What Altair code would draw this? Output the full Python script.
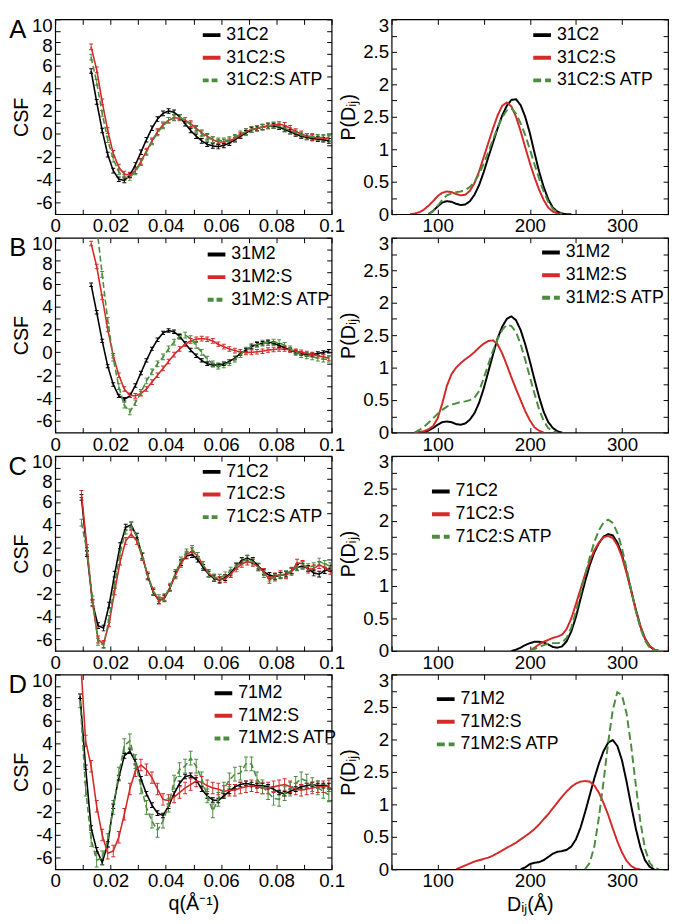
import altair as alt
import pandas as pd

BLACK = "#000000"
RED = "#d52a2a"
GREEN = "#4b8c3e"
FONT = "Liberation Sans"
NARROW = "Liberation Sans Narrow, Liberation Sans, Arial"

# ---------------- CSF panels (left column) ----------------
q_AB = [round(0.013 + 0.002 * i, 4) for i in range(44)]
q_C = [round(0.0095 + 0.002 * i, 4) for i in range(46)]
q_D = [round(0.009 + 0.002 * i, 4) for i in range(46)]

names_A = ["31C2", "31C2:S", "31C2:S ATP"]
names_B = ["31M2", "31M2:S", "31M2:S ATP"]
names_C = ["71C2", "71C2:S", "71C2:S ATP"]
names_D = ["71M2", "71M2:S", "71M2:S ATP"]

A_black = [5.5, 2.8, 0.3, -1.8, -3.2, -3.95, -4.05, -3.6, -2.7, -1.6, -0.5, 0.5, 1.3, 1.8, 2.0,
           1.9, 1.5, 0.9, 0.3, -0.2, -0.6, -0.9, -1.05, -1.1, -1.0, -0.8, -0.5, -0.2, 0.1, 0.35,
           0.5, 0.6, 0.7, 0.7, 0.6, 0.4, 0.2, 0.0, -0.2, -0.3, -0.4, -0.45, -0.5, -0.6]
A_red = [7.6, 5.6, 2.8, 0.3, -1.7, -2.9, -3.5, -3.6, -3.2, -2.4, -1.5, -0.6, 0.2, 0.8, 1.2,
         1.4, 1.4, 1.2, 0.9, 0.5, 0.1, -0.2, -0.5, -0.7, -0.7, -0.6, -0.4, -0.1, 0.2, 0.4,
         0.5, 0.6, 0.7, 0.8, 0.85, 0.75, 0.5, 0.2, 0.0, -0.2, -0.3, -0.35, -0.4, -0.4]
A_green = [6.7, 4.5, 1.8, -0.5, -2.2, -3.3, -3.8, -3.8, -3.3, -2.5, -1.6, -0.7, 0.1, 0.7, 1.2,
           1.45, 1.45, 1.2, 0.8, 0.4, 0.0, -0.3, -0.5, -0.6, -0.6, -0.5, -0.3, 0.0, 0.2, 0.4,
           0.5, 0.6, 0.7, 0.75, 0.7, 0.5, 0.3, 0.1, -0.1, -0.2, -0.2, -0.3, -0.3, -0.3]
A_err = [0.2, 0.25, 0.25]

B_black = [5.9, 3.5, 1.0, -1.2, -2.8, -3.8, -4.1, -3.8, -2.9, -1.8, -0.7, 0.3, 1.1, 1.7, 1.9,
           1.8, 1.4, 0.8, 0.2, -0.3, -0.7, -1.0, -1.1, -1.1, -1.0, -0.8, -0.5, -0.1, 0.2, 0.5,
           0.7, 0.8, 0.9, 0.8, 0.6, 0.4, 0.2, 0.0, -0.1, -0.2, -0.2, -0.1, 0.0, 0.1]
B_red = [9.5, 7.5, 4.8, 2.0, -0.3, -2.0, -3.2, -3.75, -3.8, -3.6, -3.2, -2.6, -2.0, -1.4, -0.8,
         -0.2, 0.3, 0.7, 1.0, 1.15, 1.2, 1.15, 1.0, 0.7, 0.5, 0.3, 0.15, 0.05, 0.0, 0.0,
         0.05, 0.1, 0.2, 0.25, 0.3, 0.3, 0.2, 0.1, 0.0, -0.1, -0.2, -0.3, -0.4, -0.5]
B_green = [13.0, 11.0, 6.8, 2.8, -0.5, -3.0, -4.6, -5.2, -4.4, -3.5, -2.5, -1.7, -1.0, -0.4, 0.3,
           0.9, 1.4, 1.5, 1.2, 0.6, 0.0, -0.6, -1.0, -1.2, -1.1, -0.9, -0.6, -0.2, 0.2, 0.5,
           0.7, 0.8, 0.85, 0.9, 0.85, 0.6, 0.3, 0.0, -0.2, -0.3, -0.4, -0.5, -0.6, -0.6]
B_err = [0.15, 0.2, 0.25]

C_black = [6.4, 1.5, -2.8, -4.8, -5.0, -3.0, -0.3, 2.2, 3.8, 4.0, 3.0, 1.3, -0.5, -1.9, -2.6,
           -2.4, -1.5, -0.3, 0.7, 1.3, 1.4, 1.0, 0.3, -0.3, -0.7, -0.8, -0.6, -0.2, 0.4, 0.9,
           1.1, 0.9, 0.4, -0.1, -0.4, -0.5, -0.4, -0.3, 0.0, 0.3, 0.4, 0.2, -0.2, -0.3, 0.0, 0.2]
C_red = [6.7, 2.0, -2.8, -6.0, -6.4, -4.6, -1.8, 0.8, 2.6, 3.2, 2.6, 1.2, -0.4, -1.8, -2.6,
         -2.4, -1.5, -0.4, 0.6, 1.4, 1.7, 1.3, 0.5, -0.2, -0.6, -0.8, -0.7, -0.3, 0.2, 0.6,
         0.8, 0.7, 0.3, -0.1, -0.8, -0.5, -0.3, -0.4, -0.1, 0.7, 0.6, 0.1, 0.2, 0.5, 0.3, 0.0]
C_green = [4.2, 1.7, -2.5, -6.2, -6.5, -4.2, -1.2, 1.6, 3.5, 3.9, 3.0, 1.3, -0.5, -1.8, -2.4,
           -2.3, -1.4, -0.2, 0.9, 1.6, 1.9, 1.3, 0.5, -0.2, -0.6, -0.6, -0.4, 0.0, 0.4, 0.8,
           1.0, 0.8, 0.3, -0.3, -0.6, -0.6, -0.4, -0.3, 0.0, 0.3, 0.5, 0.3, 0.4, 0.8, 0.6, 0.4]
C_err = [0.25, 0.3, 0.3]

D_black = [8.1, 1.9, -3.4, -5.3, -6.4, -4.8, -1.5, 1.0, 2.9, 3.3, 2.4, 0.9, -0.4, -1.4, -2.1,
           -2.3, -1.5, -0.4, 0.5, 1.1, 1.2, 0.8, 0.0, -0.6, -0.95, -1.0, -0.6, -0.2, 0.2, 0.4,
           0.5, 0.4, 0.3, 0.3, 0.2, 0.0, -0.3, -0.4, -0.2, 0.0, 0.2, 0.3, 0.4, 0.3, 0.3, 0.3]
D_red = [12.0, 4.2, 2.0, -1.5, -4.0, -5.6, -5.4, -4.2, -2.2, 0.0, 1.6, 2.1, 1.7, 1.0, 0.0,
         -0.9, -1.0, -0.7, -0.3, 0.1, 0.4, 0.7, 0.6, 0.3, 0.1, 0.0, -0.2, -0.1, -0.1, 0.1,
         0.2, 0.3, 0.2, 0.1, 0.1, 0.2, 0.3, 0.4, 0.2, 0.0, -0.1, 0.0, 0.1, 0.2, 0.2, 0.3]
D_green = [7.7, 0.0, -4.4, -6.2, -6.0, -4.5, -1.6, 1.3, 3.8, 4.2, 2.4, 0.2, -1.6, -2.8, -3.6,
           -2.8, -1.4, 0.6, 1.7, 2.0, 2.7, 2.0, 0.9, -0.6, -1.9, -0.9, 0.0, 0.8, 1.3, 1.4,
           2.2, 2.2, 0.9, 0.2, -0.3, -0.8, -0.9, -0.4, 0.0, 0.5, 0.9, 0.7, 0.4, 0.1, -0.2, -0.5]
D_err = [0.2, 0.5, 0.6]

# ---------------- P(Dij) panels (right column) ----------------
d_A = list(range(70, 250, 5))
d_B = list(range(75, 245, 5))
d_C = list(range(180, 345, 5))
d_D = list(range(120, 345, 5))

PA_black = [None] * 4 + [0.0, 0.05, 0.12, 0.18, 0.2, 0.19, 0.16, 0.14, 0.15, 0.2, 0.3, 0.45, 0.65, 0.88,
                         1.1, 1.32, 1.52, 1.67, 1.76, 1.77, 1.68, 1.5, 1.25, 0.95, 0.66, 0.42, 0.23,
                         0.1, 0.04, 0.01, 0.0, 0.0]
PA_red = [0.0, 0.01, 0.03, 0.07, 0.13, 0.2, 0.28, 0.33, 0.35, 0.34, 0.31, 0.29, 0.3, 0.36, 0.48,
          0.66, 0.88, 1.1, 1.32, 1.52, 1.67, 1.72, 1.66, 1.5, 1.28, 1.03, 0.79, 0.57, 0.38, 0.22,
          0.1, 0.04, 0.01, 0.0, None, None]
PA_green = [None] * 4 + [0.0, 0.05, 0.13, 0.22, 0.29, 0.32, 0.34, 0.35, 0.37, 0.42, 0.5, 0.62, 0.78,
                         0.96, 1.15, 1.33, 1.49, 1.6, 1.63, 1.55, 1.4, 1.22, 1.0, 0.77, 0.55, 0.35,
                         0.19, 0.08, 0.03, 0.0, None, None]

PB_black = [None, 0.0, 0.01, 0.03, 0.07, 0.12, 0.16, 0.17, 0.16, 0.13, 0.12, 0.14, 0.2, 0.3, 0.46,
            0.68, 0.94, 1.2, 1.45, 1.63, 1.75, 1.79, 1.73, 1.58, 1.36, 1.1, 0.82, 0.55, 0.32, 0.16,
            0.07, 0.02, 0.0, None]
PB_red = [0.0, 0.01, 0.02, 0.05, 0.1, 0.22, 0.45, 0.72, 0.9, 1.0, 1.07, 1.13, 1.18, 1.24, 1.31,
          1.37, 1.41, 1.42, 1.36, 1.22, 1.04, 0.85, 0.67, 0.5, 0.33, 0.19, 0.08, 0.03, 0.0,
          None, None, None, None, None]
PB_green = [0.0, 0.04, 0.09, 0.15, 0.22, 0.29, 0.35, 0.4, 0.43, 0.45, 0.47, 0.48, 0.5, 0.54, 0.64,
            0.84, 1.05, 1.26, 1.44, 1.58, 1.66, 1.64, 1.55, 1.36, 1.12, 0.86, 0.6, 0.36, 0.18,
            0.07, 0.02, 0.0, None, None]

PC_black = [0.0, 0.02, 0.05, 0.09, 0.12, 0.14, 0.14, 0.13, 0.1, 0.06, 0.05, 0.07, 0.15, 0.3, 0.52,
            0.8, 1.07, 1.32, 1.52, 1.66, 1.76, 1.8, 1.78, 1.67, 1.48, 1.22, 0.93, 0.64, 0.38, 0.19,
            0.07, 0.02, 0.0]
PC_red = [None] * 4 + [0.0, 0.05, 0.1, 0.14, 0.17, 0.2, 0.22, 0.25, 0.34, 0.5, 0.72, 0.95, 1.18, 1.38,
                       1.55, 1.67, 1.75, 1.77, 1.74, 1.63, 1.45, 1.2, 0.92, 0.63, 0.38, 0.19, 0.08,
                       0.02, 0.0]
PC_green = [None] * 4 + [0.0, 0.03, 0.06, 0.09, 0.11, 0.12, 0.12, 0.13, 0.2, 0.36, 0.6, 0.88, 1.17,
                         1.44, 1.68, 1.86, 1.98, 2.02, 1.97, 1.82, 1.58, 1.27, 0.94, 0.62, 0.35, 0.16,
                         0.05, 0.01, 0.0]

PD_black = [None] * 14 + [0.0, 0.03, 0.08, 0.1, 0.11, 0.14, 0.19, 0.24, 0.27, 0.28, 0.3, 0.35, 0.46,
                          0.64, 0.88, 1.14, 1.4, 1.63, 1.82, 1.95, 1.99, 1.9, 1.68, 1.35, 0.98, 0.63,
                          0.34, 0.14, 0.04, 0.0, None]
PD_red = [0.0, 0.03, 0.06, 0.09, 0.12, 0.14, 0.16, 0.18, 0.21, 0.25, 0.29, 0.33, 0.37, 0.41, 0.46,
          0.51, 0.56, 0.62, 0.69, 0.77, 0.85, 0.94, 1.03, 1.12, 1.2, 1.27, 1.32, 1.35, 1.36, 1.35,
          1.29, 1.18, 1.02, 0.84, 0.63, 0.43, 0.26, 0.13, 0.05, 0.01, 0.0, None, None, None, None]
PD_green = [None] * 28 + [0.0, 0.1, 0.35, 0.8, 1.35, 1.95, 2.45, 2.73, 2.68, 2.4, 1.9, 1.3, 0.73,
                          0.32, 0.1, 0.02, 0.0]

# tick positions
X_TICKS_Q = [round(i * 0.01, 2) for i in range(11)]
Y_TICKS_CSF = list(range(-6, 11))
X_TICKS_D = list(range(50, 351, 50))
Y_TICKS_P = [i * 0.25 for i in range(13)]

W = 281
H = 198


def legend(lx, ly):
    return alt.Legend(orient="none", legendX=lx, legendY=ly, title=None, symbolType="stroke",
                      symbolSize=324, symbolStrokeWidth=4, symbolOpacity=1, labelFontSize=18,
                      labelFont=NARROW, labelOffset=4, rowPadding=3, padding=0, labelColor="black")


def tick_axis(orient, values):
    return alt.Axis(orient=orient, values=values, tickSize=5, offset=-5, domain=False,
                    grid=False, labels=False, tickColor="black")


def label_axis(orient, values, expr, pad, top_value=None, next_value=None, title_pad=0):
    kw = dict(orient=orient, values=values, tickSize=5, offset=-5, domain=False, grid=False,
              labelExpr=expr, labelPadding=pad, labelOverlap=False, labelFlush=False,
              tickColor="black", titlePadding=title_pad)
    if top_value is not None:
        test = "datum.value == %s" % top_value
        kw["labelBaseline"] = {"condition": {"test": test, "value": "top"}, "value": "middle"}
        conds = [{"test": test, "value": -3}]
        if next_value is not None:
            conds.append({"test": "datum.value == %s" % next_value, "value": 3})
        kw["labelOffset"] = {"condition": conds, "value": 0}
    return alt.Axis(**kw)


def left_panel(q, series, errs, names, letter, lx, ly, bottom):
    rows = []
    for name, vals, e in zip(names, series, errs):
        assert len(vals) == len(q), (name, len(vals), len(q))
        for qq, v in zip(q, vals):
            rows.append({"q": qq, "v": v, "lo": v - e, "hi": v + e, "s": name})
    df = pd.DataFrame(rows)
    xs = alt.Scale(domain=[0, 0.1], nice=False, zero=False)
    ys = alt.Scale(domain=[-7, 10], nice=False, zero=False)
    leg = legend(lx, ly)
    col = alt.Color("s:N", scale=alt.Scale(domain=names, range=[BLACK, RED, GREEN]),
                    legend=leg, title=None)
    dash = alt.StrokeDash("s:N", scale=alt.Scale(domain=names, range=[[1, 0], [1, 0], [6, 3]]),
                          legend=leg, title=None)
    base = alt.Chart(df)
    rules = base.mark_rule(strokeWidth=1, opacity=1, clip=True).encode(
        x=alt.X("q:Q", scale=xs, axis=tick_axis("top", X_TICKS_Q), title=None),
        y=alt.Y("lo:Q", scale=ys, axis=tick_axis("right", Y_TICKS_CSF), title=None),
        y2="hi:Q", color=col)
    cap_lo = base.mark_tick(orient="horizontal", size=4, thickness=1, opacity=1, clip=True).encode(
        x=alt.X("q:Q", scale=xs, axis=None), y=alt.Y("lo:Q", scale=ys, axis=None), color=col)
    cap_hi = base.mark_tick(orient="horizontal", size=4, thickness=1, opacity=1, clip=True).encode(
        x=alt.X("q:Q", scale=xs, axis=None), y=alt.Y("hi:Q", scale=ys, axis=None), color=col)
    xlab = label_axis("bottom", X_TICKS_Q,
                      "round(datum.value * 100) % 2 == 0 ? format(datum.value, '~g') : ''", 3,
                      title_pad=3)
    ylab = label_axis("left", Y_TICKS_CSF, "datum.value % 2 == 0 ? '' + datum.value : ''", 3,
                      top_value=10, next_value=8, title_pad=0)
    line = base.mark_line(strokeWidth=1.6, opacity=1, clip=True).encode(
        x=alt.X("q:Q", scale=xs, axis=xlab, title="q(Å⁻¹)" if bottom else None),
        y=alt.Y("v:Q", scale=ys, axis=ylab, title="CSF"),
        color=col, strokeDash=dash)
    lt = alt.Chart(pd.DataFrame({"t": [letter]})).mark_text(
        fontSize=26, font=FONT, align="center", baseline="top", color="black").encode(
        text="t:N", x=alt.value(-38), y=alt.value(-2))
    return alt.layer(rules, cap_lo, cap_hi, line, lt).resolve_axis(
        x="independent", y="independent").properties(width=W, height=H)


def right_panel(d, series, names, lx, ly, bottom):
    rows = []
    for name, vals in zip(names, series):
        assert len(vals) == len(d), (name, len(vals), len(d))
        for dd, v in zip(d, vals):
            if v is not None:
                rows.append({"d": dd, "p": v, "s": name})
    df = pd.DataFrame(rows)
    xs = alt.Scale(domain=[50, 350], nice=False, zero=False)
    ys = alt.Scale(domain=[0, 3], nice=False, zero=False)
    leg = legend(lx, ly)
    col = alt.Color("s:N", scale=alt.Scale(domain=names, range=[BLACK, RED, GREEN]),
                    legend=leg, title=None)
    dash = alt.StrokeDash("s:N", scale=alt.Scale(domain=names, range=[[1, 0], [1, 0], [8, 4]]),
                          legend=leg, title=None)
    base = alt.Chart(df)
    frame = base.mark_line(strokeOpacity=0).encode(
        x=alt.X("d:Q", scale=xs, axis=tick_axis("top", X_TICKS_D), title=None),
        y=alt.Y("p:Q", scale=ys, axis=tick_axis("right", Y_TICKS_P), title=None),
        detail="s:N")
    xlab = label_axis("bottom", X_TICKS_D, "datum.value % 100 == 0 ? '' + datum.value : ''", 3,
                      title_pad=4)
    ylab = label_axis("left", Y_TICKS_P,
                      "datum.value == 1.5 ? '2.5' : (round(datum.value * 2) == datum.value * 2 ? '' + datum.value : '')",
                      3, top_value=3, title_pad=4)
    line = base.mark_line(strokeWidth=2, clip=True).encode(
        x=alt.X("d:Q", scale=xs, axis=xlab, title="Dᵢⱼ(Å)" if bottom else None),
        y=alt.Y("p:Q", scale=ys, axis=ylab, title="P(Dᵢⱼ)"),
        color=col, strokeDash=dash)
    return alt.layer(frame, line).resolve_axis(
        x="independent", y="independent").properties(width=W, height=H)


panels = [
    left_panel(q_AB, [A_black, A_red, A_green], A_err, names_A, "A", 148, 5, False),
    right_panel(d_A, [PA_black, PA_red, PA_green], names_A, 142, 5, False),
    left_panel(q_AB, [B_black, B_red, B_green], B_err, names_B, "B", 153, 6, False),
    right_panel(d_B, [PB_black, PB_red, PB_green], names_B, 151, 4, False),
    left_panel(q_C, [C_black, C_red, C_green], C_err, names_C, "C", 148, 5, False),
    right_panel(d_C, [PC_black, PC_red, PC_green], names_C, 39, 25, False),
    left_panel(q_D, [D_black, D_red, D_green], D_err, names_D, "D", 160, 8, True),
    right_panel(d_D, [PD_black, PD_red, PD_green], names_D, 44, 14, True),
]

chart = alt.ConcatChart(
    concat=panels, columns=2, spacing=alt.RowColnumber(row=24, column=61), bounds="flush",
    padding={"left": 0, "top": 0, "right": 0, "bottom": 0},
).resolve_scale(color="independent", strokeDash="independent").configure_view(
    stroke="black", strokeWidth=1.2
).configure_axis(
    labelFont=FONT, labelFontSize=19, labelColor="black", titleFont=NARROW, titleFontSize=20,
    titleFontWeight="normal", titleColor="black", tickWidth=1
)

chart.save("out.html", embed_options={"renderer": "svg", "actions": False})
